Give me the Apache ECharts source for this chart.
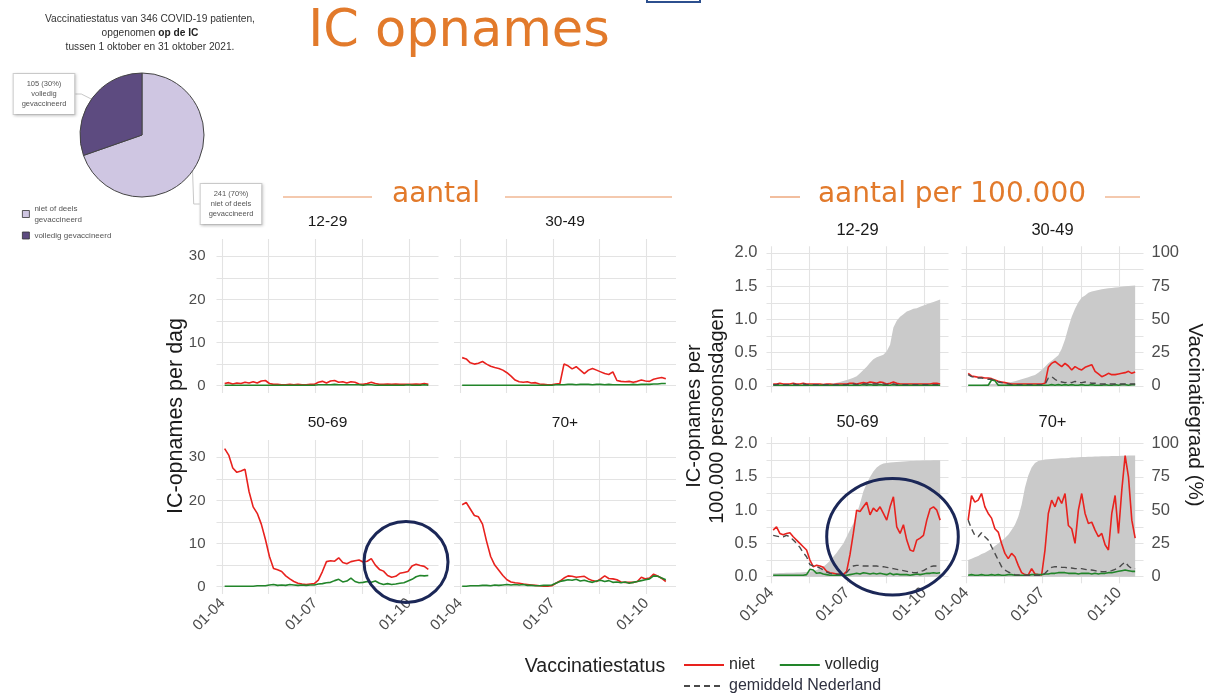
<!DOCTYPE html>
<html><head><meta charset="utf-8">
<script src="https://cdn.jsdelivr.net/npm/echarts@6/dist/echarts.min.js"></script>
<style>html,body{margin:0;padding:0;background:#fff}#c{width:1207px;height:697px}</style>
</head><body><div id="c"></div>
<script>
// ---------- DATA ----------
const dates = ['2021-04-03','2021-04-07','2021-04-11','2021-04-15','2021-04-19','2021-04-23','2021-04-27',
 '2021-05-01','2021-05-05','2021-05-09','2021-05-13','2021-05-17','2021-05-21','2021-05-25','2021-05-29',
 '2021-06-02','2021-06-06','2021-06-10','2021-06-14','2021-06-18','2021-06-22','2021-06-26','2021-06-30',
 '2021-07-04','2021-07-08','2021-07-12','2021-07-16','2021-07-20','2021-07-24','2021-07-28',
 '2021-08-01','2021-08-05','2021-08-09','2021-08-13','2021-08-17','2021-08-21','2021-08-25','2021-08-29',
 '2021-09-02','2021-09-06','2021-09-10','2021-09-14','2021-09-18','2021-09-22','2021-09-26','2021-09-30',
 '2021-10-04','2021-10-08','2021-10-12','2021-10-16','2021-10-20'];
const xGridDates = ['2021-04-01','2021-05-16','2021-07-01','2021-08-16','2021-10-01'];
const xLabelDates = ['2021-04-01','2021-07-01','2021-10-01'];
const xRange = ['2021-03-26','2021-10-30'];
const ageGroups = ['12-29','30-49','50-69','70+'];

// aantal (IC-opnames per dag)
const aantalNiet1229 = [0.5,0.7,0.4,0.6,0.5,0.8,0.6,0.9,0.6,1.1, 1.2,0.5,0.3,0.3,0.2,0.2,0.3,0.2,0.3,0.2, 0.2,0.3,0.3,0.8,1.0,0.6,1.1,1.2,0.8,0.9, 0.6,0.9,0.8,0.4,0.3,0.5,0.8,0.5,0.3,0.3, 0.4,0.3,0.4,0.3,0.3,0.3,0.3,0.4,0.3,0.5, 0.3];
const aantalVol1229 = [0.1,0.1,0.1,0.1,0.1,0.1,0.1,0.1,0.1,0.1, 0.1,0.1,0.1,0.1,0.1,0.1,0.1,0.1,0.1,0.1, 0.1,0.1,0.1,0.2,0.2,0.2,0.2,0.3,0.2,0.2, 0.2,0.2,0.2,0.2,0.1,0.2,0.2,0.1,0.1,0.1, 0.1,0.1,0.1,0.1,0.1,0.2,0.1,0.1,0.1,0.2, 0.1];
const aantalNiet3049 = [6.5,6.2,5.3,5.0,5.2,5.6,5.0,4.5,4.2,4.0, 3.6,3.0,2.2,1.3,0.9,0.8,0.9,0.6,0.7,0.4, 0.3,0.2,0.2,0.4,0.5,5.0,4.6,3.9,4.4,3.6, 2.8,3.6,4.0,3.6,3.2,2.8,2.6,3.2,1.2,1.0, 0.9,1.0,0.8,1.0,1.3,1.1,1.0,1.5,1.7,1.9, 1.6];
const aantalVol3049 = [0.1,0.1,0.1,0.1,0.1,0.1,0.1,0.1,0.1,0.1, 0.1,0.1,0.1,0.1,0.1,0.1,0.1,0.1,0.1,0.1, 0.1,0.1,0.1,0.2,0.2,0.2,0.3,0.3,0.2,0.3, 0.3,0.3,0.2,0.3,0.3,0.2,0.3,0.2,0.2,0.2, 0.2,0.2,0.3,0.2,0.3,0.3,0.3,0.4,0.4,0.5, 0.5];
const aantalNiet5069 = [32,30.5,27.5,26.5,26.8,27.2,22,18.5,17,14.5, 11,7,4.2,3.9,3.5,2.5,1.8,1.2,0.8,0.6, 0.5,0.6,0.7,1.5,3.5,5.8,6.0,5.9,6.7,5.6, 5.3,5.8,6.0,6.2,5.7,5.9,6.5,5.0,4.0,3.6, 2.6,2.2,2.4,3.1,3.3,3.5,4.8,5.2,4.9,4.7, 4.0];
const aantalVol5069 = [0.1,0.1,0.1,0.1,0.1,0.1,0.1,0.1,0.2,0.2, 0.2,0.4,0.5,0.3,0.4,0.3,0.5,0.4,0.3,0.4, 0.3,0.4,0.4,0.6,0.7,0.9,1.0,1.4,1.7,1.1, 1.3,2.0,1.2,0.9,1.0,1.2,1.0,1.3,0.8,0.5, 0.7,0.5,0.6,0.8,0.9,1.3,1.7,2.3,2.6,2.5, 2.6];
const aantalNiet70 = [19.0,19.5,18.0,16.5,16.2,14.5,10.5,7.0,5.0,3.8, 2.6,1.6,1.1,0.9,0.8,0.6,0.5,0.4,0.3,0.2, 0.1,0.1,0.2,0.8,1.3,2.0,2.5,2.4,2.2,2.3, 2.4,1.8,1.4,1.2,1.8,2.5,1.9,1.8,1.6,1.1, 1.0,1.0,1.0,1.2,2.2,1.8,2.0,2.9,2.5,1.9, 1.2];
const aantalVol70 = [0.1,0.1,0.2,0.2,0.2,0.3,0.3,0.2,0.4,0.3, 0.4,0.5,0.4,0.5,0.4,0.5,0.3,0.3,0.2,0.2, 0.3,0.3,0.4,0.8,1.2,1.4,1.6,1.5,1.7,1.3, 1.5,1.2,1.0,1.3,1.5,1.2,1.4,1.0,1.1,0.9, 1.1,0.8,1.0,1.2,1.4,1.6,1.8,2.5,2.4,2.0, 1.6];

// aantal per 100.000 persoonsdagen
const rateNiet1229 = [0.03,0.03,0.04,0.03,0.03,0.03,0.04,0.03,0.03,0.04, 0.03,0.03,0.03,0.03,0.03,0.02,0.03,0.03,0.02,0.03, 0.03,0.03,0.03,0.04,0.04,0.03,0.04,0.05,0.04,0.06, 0.05,0.04,0.06,0.05,0.03,0.04,0.06,0.04,0.03,0.03, 0.03,0.03,0.03,0.03,0.03,0.03,0.03,0.03,0.04,0.04, 0.03];
const rateVol1229 = [0.01,0.01,0.01,0.01,0.01,0.01,0.01,0.01,0.01,0.01, 0.01,0.01,0.01,0.01,0.01,0.01,0.01,0.01,0.01,0.01, 0.01,0.01,0.01,0.01,0.01,0.01,0.01,0.02,0.01,0.02, 0.01,0.01,0.02,0.01,0.01,0.01,0.02,0.01,0.01,0.01, 0.01,0.01,0.01,0.01,0.01,0.01,0.01,0.01,0.01,0.01, 0.01];
const rateGem1229 = [0.02,0.02,0.03,0.02,0.02,0.02,0.03,0.02,0.02,0.03, 0.02,0.02,0.02,0.02,0.02,0.02,0.02,0.02,0.02,0.02, 0.02,0.02,0.02,0.03,0.03,0.02,0.03,0.03,0.03,0.03, 0.03,0.03,0.03,0.03,0.02,0.03,0.03,0.02,0.02,0.02, 0.02,0.02,0.02,0.02,0.02,0.02,0.02,0.02,0.02,0.02, 0.02];
const grade1229 = [0,0,0,0,0,0,0,0.2,0.3,0.4, 0.5,0.7,0.9,1.0,1.1,1.2,1.4,1.6,2.0,2.5, 3.0,3.7,4.5,5.3,6.2,7.2,9.5,12,14.5,17.5, 20,21.5,22.5,23.5,26,31,44,49,52,54, 56,57,58,58.5,59.5,60.5,61.5,62.3,63.2,64, 65];

const rateNiet3049 = [0.19,0.15,0.14,0.13,0.13,0.12,0.12,0.11,0.09,0.07, 0.06,0.05,0.04,0.03,0.03,0.03,0.03,0.03,0.03,0.03, 0.03,0.03,0.03,0.04,0.28,0.34,0.37,0.33,0.29,0.34, 0.30,0.24,0.29,0.26,0.24,0.28,0.30,0.32,0.22,0.18, 0.14,0.16,0.19,0.17,0.17,0.18,0.19,0.20,0.22,0.19, 0.21];
const rateVol3049 = [0.01,0.01,0.01,0.01,0.01,0.01,0.01,0.09,0.08,0.01, 0.01,0.01,0.01,0.01,0.01,0.01,0.01,0.01,0.01,0.01, 0.01,0.01,0.01,0.01,0.01,0.02,0.01,0.02,0.01,0.02, 0.01,0.02,0.01,0.01,0.02,0.01,0.01,0.02,0.01,0.01, 0.01,0.02,0.01,0.01,0.02,0.01,0.02,0.02,0.01,0.02, 0.02];
const rateGem3049 = [0.17,0.14,0.13,0.12,0.12,0.11,0.10,0.10,0.08,0.06, 0.05,0.04,0.03,0.02,0.02,0.02,0.02,0.02,0.02,0.02, 0.02,0.02,0.02,0.02,0.12,0.14,0.10,0.07,0.06,0.05, 0.06,0.05,0.07,0.05,0.05,0.06,0.05,0.04,0.04,0.03, 0.03,0.03,0.03,0.03,0.03,0.03,0.03,0.03,0.03,0.03, 0.03];
const grade3049 = [0.3,0.4,0.5,0.6,0.8,1.0,1.2,1.4,1.6,1.8, 2.0,2.2,2.5,3.0,3.5,4.2,5.0,5.7,6.5,7.5, 8.2,10,12,14.5,17,19,21,23,28,35, 44,52,58,63,66.5,68,70,71,71.6,72.2, 72.7,73,73.4,73.7,74,74.3,74.6,74.9,75.2,75.4, 75.5];

const rateNiet5069 = [0.70,0.75,0.65,0.63,0.65,0.66,0.60,0.55,0.50,0.45, 0.40,0.25,0.15,0.17,0.16,0.14,0.08,0.06,0.05,0.04, 0.03,0.03,0.08,0.33,0.65,1.00,0.98,1.05,1.12,0.93, 1.03,0.98,1.05,0.95,0.85,1.05,1.20,0.75,0.65,0.78, 0.55,0.40,0.38,0.55,0.58,0.62,0.85,1.02,1.05,1.00, 0.85];
const rateVol5069 = [0.02,0.02,0.02,0.02,0.02,0.02,0.02,0.02,0.02,0.02, 0.03,0.11,0.10,0.05,0.06,0.04,0.03,0.02,0.02,0.02, 0.02,0.02,0.02,0.03,0.04,0.05,0.04,0.06,0.05,0.04, 0.05,0.04,0.05,0.04,0.03,0.05,0.03,0.04,0.03,0.03, 0.03,0.02,0.03,0.04,0.03,0.04,0.05,0.05,0.06,0.05, 0.06];
const rateGem5069 = [0.62,0.61,0.60,0.60,0.62,0.60,0.55,0.50,0.44,0.36, 0.30,0.18,0.16,0.15,0.13,0.10,0.07,0.05,0.04,0.035, 0.035,0.04,0.06,0.12,0.16,0.17,0.17,0.16,0.16,0.16, 0.16,0.16,0.15,0.15,0.14,0.13,0.12,0.11,0.10,0.09, 0.08,0.07,0.06,0.06,0.08,0.09,0.12,0.15,0.16,0.16, 0.16];
const grade5069 = [2.5,2.6,2.7,2.8,2.9,3.0,3.0,3.1,3.2,3.3, 3.5,3.8,4.2,5.0,6.2,7.5,9.5,12,15,18, 21.5,25,30,35,40,47,55,64,70,75, 79,82,84,85,85.5,85.8,86,86.2,86.4,86.6, 86.8,87,87,87.1,87.2,87.3,87.4,87.4,87.5,87.5, 87.5];

const rateNiet70 = [0.85,1.22,1.12,1.15,1.25,1.05,0.95,0.88,0.72,0.67, 0.50,0.35,0.27,0.35,0.30,0.17,0.06,0.03,0.025,0.12, 0.04,0.03,0.025,0.40,0.95,1.15,1.05,1.20,1.10,1.25, 0.77,0.72,0.50,1.00,1.25,0.95,0.80,0.82,0.70,0.60, 0.65,0.48,0.40,0.95,1.22,0.65,1.30,1.82,1.50,0.85, 0.58];
const rateVol70 = [0.02,0.03,0.02,0.02,0.03,0.02,0.02,0.03,0.02,0.03, 0.02,0.02,0.03,0.03,0.02,0.02,0.02,0.02,0.02,0.03, 0.03,0.03,0.03,0.04,0.04,0.05,0.05,0.06,0.06,0.06, 0.05,0.05,0.05,0.04,0.05,0.05,0.05,0.04,0.05,0.04, 0.05,0.05,0.06,0.06,0.07,0.08,0.09,0.10,0.09,0.08, 0.08];
const rateGem70 = [0.85,0.72,0.62,0.60,0.66,0.60,0.55,0.45,0.35,0.25, 0.15,0.10,0.07,0.05,0.03,0.025,0.02,0.02,0.02,0.02, 0.02,0.02,0.02,0.05,0.10,0.14,0.15,0.15,0.14,0.14, 0.13,0.13,0.12,0.12,0.12,0.11,0.10,0.10,0.09,0.08, 0.075,0.075,0.08,0.09,0.11,0.13,0.18,0.22,0.16,0.12, 0.12];
const grade70 = [12.5,13.5,14.5,15.5,17,18,19.5,21,23,25, 27,29,31.5,35,39,45,54,67,76,82, 85.5,87,87.5,88,88.3,88.5,88.7,88.8,89,89.1, 89.3,89.5,89.6,89.8,89.9,90,90.1,90.2,90.3,90.4, 90.5,90.6,90.6,90.7,90.8,90.8,90.9,90.9,91,91, 91];

// pie
const pieNames = ['niet of deels gevaccineerd','volledig gevaccineerd'];
const pieValues = [241, 105];
const pieLabelText = ['niet of deels\ngevaccineerd','volledig\ngevaccineerd'];
const pieLegendText = {'niet of deels gevaccineerd':'niet of deels\ngevaccineerd','volledig gevaccineerd':'volledig gevaccineerd'};

const leftTicks = [0,5,10,15,20,25,30], leftLabels = [0,10,20,30];
const rateTicks = [0,0.25,0.5,0.75,1,1.25,1.5,1.75,2], rateLabels = [0,0.5,1,1.5,2];
const gradeLabels = [0,25,50,75,100];

// ---------- CHART ----------
const RED = '#e8221e', GREEN = '#22852a', DASH = '#4a4a4a', GREY = '#cacaca';
const SANS = 'Liberation Sans';
const gridColor = '#e3e3e3';
const pad = n => (n < 10 ? '0' : '') + n;
const ts = s => Date.parse(s);
const fmtDate = v => { const d = new Date(v); return pad(d.getUTCDate()) + '-' + pad(d.getUTCMonth() + 1); };

const grids = [];
const LG = {tops: [239, 440], lefts: [216.5, 454], w: 222, h: 154};
const RG = {tops: [246.3, 437], lefts: [766.5, 961.5], w: 182, h: 146.3};
for (let r = 0; r < 2; r++) for (let c = 0; c < 2; c++)
  grids.push({left: LG.lefts[c], top: LG.tops[r], width: LG.w, height: LG.h});
for (let r = 0; r < 2; r++) for (let c = 0; c < 2; c++)
  grids.push({left: RG.lefts[c], top: RG.tops[r], width: RG.w, height: RG.h});

const xAxes = grids.map((g, i) => {
  const bottomRow = (i % 4) >= 2;
  return {
    type: 'value', gridIndex: i, min: ts(xRange[0]), max: ts(xRange[1]),
    axisLine: {show: false}, axisTick: {show: false, customValues: xGridDates.map(ts)},
    splitLine: {show: true, lineStyle: {color: gridColor, width: 1.1}},
    axisLabel: {show: bottomRow, customValues: xLabelDates.map(ts), rotate: 45, margin: 7,
      formatter: fmtDate, fontFamily: SANS, fontSize: i < 4 ? 15 : 16, color: '#4d4d4d'}
  };
});
const yAxes = [];
for (let i = 0; i < 4; i++) yAxes.push({
  type: 'value', gridIndex: i, min: -1.7, max: 34,
  axisLine: {show: false}, axisTick: {show: false, customValues: leftTicks},
  splitLine: {show: true, lineStyle: {color: gridColor, width: 1.1}},
  axisLabel: {show: i % 2 === 0, customValues: leftLabels, margin: 11, fontFamily: SANS, fontSize: 15, color: '#4d4d4d'}
});
for (let i = 4; i < 8; i++) yAxes.push({
  type: 'value', gridIndex: i, min: -0.1, max: 2.1,
  axisLine: {show: false}, axisTick: {show: false, customValues: rateTicks},
  splitLine: {show: true, lineStyle: {color: gridColor, width: 1.1}},
  axisLabel: {show: i % 2 === 0, customValues: rateLabels, margin: 9, formatter: v => Number(v).toFixed(1),
    fontFamily: SANS, fontSize: 16.5, color: '#4d4d4d'}
});
for (let i = 4; i < 8; i++) yAxes.push({
  type: 'value', gridIndex: i, min: -5, max: 105, position: 'right',
  axisLine: {show: false}, axisTick: {show: false}, splitLine: {show: false},
  axisLabel: {show: i % 2 === 1, customValues: gradeLabels, margin: 8, fontFamily: SANS, fontSize: 16.5, color: '#4d4d4d'}
});

const pairs = vals => dates.map((d, k) => [ts(d), vals[k]]);
function line(name, xi, yi, vals, color, dashed, z) {
  return {type: 'line', name, xAxisIndex: xi, yAxisIndex: yi, data: pairs(vals), symbol: 'none',
    lineStyle: {color, width: dashed ? 1.4 : 1.6, type: dashed ? [6, 4] : 'solid'}, itemStyle: {color},
    z, silent: true, animation: false};
}
function area(xi, yi, vals) {
  return {type: 'line', name: 'vaccinatiegraad', xAxisIndex: xi, yAxisIndex: yi, data: pairs(vals), symbol: 'none',
    lineStyle: {width: 0}, areaStyle: {color: GREY, opacity: 1}, z: 1, silent: true, animation: false};
}
const series = [];
const aantalNiet = [aantalNiet1229, aantalNiet3049, aantalNiet5069, aantalNiet70];
const aantalVol = [aantalVol1229, aantalVol3049, aantalVol5069, aantalVol70];
for (let i = 0; i < 4; i++) {
  series.push(line('niet', i, i, aantalNiet[i], RED, false, 3));
  series.push(line('volledig', i, i, aantalVol[i], GREEN, false, 4));
}
const rateNiet = [rateNiet1229, rateNiet3049, rateNiet5069, rateNiet70];
const rateVol = [rateVol1229, rateVol3049, rateVol5069, rateVol70];
const rateGem = [rateGem1229, rateGem3049, rateGem5069, rateGem70];
const grades = [grade1229, grade3049, grade5069, grade70];
for (let i = 0; i < 4; i++) {
  series.push(area(4 + i, 8 + i, grades[i]));
  series.push(line('niet', 4 + i, 4 + i, rateNiet[i], RED, false, 3));
  series.push(line('volledig', 4 + i, 4 + i, rateVol[i], GREEN, false, 4));
  series.push(line('gemiddeld Nederland', 4 + i, 4 + i, rateGem[i], DASH, true, 5));
}
series.push({
  type: 'pie', name: 'vaccinatiestatus', center: [142, 135], radius: 62, startAngle: 90, clockwise: true,
  animation: false, silent: true,
  data: pieNames.map((n, k) => ({name: n, value: pieValues[k], itemStyle: {color: k === 0 ? '#cfc6e2' : '#5d4b80'}})),
  itemStyle: {borderColor: '#444', borderWidth: 1},
  label: {show: true, position: 'outside', fontFamily: SANS, fontSize: 7.5, lineHeight: 10, color: '#555', align: 'center',
    backgroundColor: '#fff', borderColor: '#cfcfcf', borderWidth: 1, padding: [5, 8],
    shadowBlur: 3, shadowColor: 'rgba(0,0,0,0.18)', shadowOffsetX: 1, shadowOffsetY: 1,
    formatter: p => p.value + ' (' + Math.round(p.percent) + '%)\n' + pieLabelText[p.dataIndex]},
  labelLine: {show: true, length: 6, length2: 6, lineStyle: {color: '#c8c8c8', width: 1}},
  labelLayout: p => p.dataIndex === 1 ? {x: 44, y: 94, align: 'center', verticalAlign: 'middle'}
                                      : {x: 231, y: 204, align: 'center', verticalAlign: 'middle'}
});

const txt = (text, x, y, size, opts = {}) => ({type: 'text', x, y, silent: true, z: 50, rotation: opts.rot || 0,
  style: Object.assign({text, fontFamily: opts.font || SANS, fontSize: size, fill: opts.fill || '#1a1a1a',
    align: 'center', verticalAlign: 'middle', fontWeight: opts.weight || 'normal'}, opts.style || {})});
const hline = (x1, x2, y) => ({type: 'line', silent: true, shape: {x1, y1: y, x2, y2: y}, style: {stroke: '#e9935e', lineWidth: 1.2}});
const ORANGE = '#e27a2b';

const graphics = [
  txt('IC opnames', 459, 33, 51, {font: 'DejaVu Sans', fill: ORANGE}),
  {type: 'rect', silent: true, shape: {x: 647, y: -6, width: 53, height: 8}, style: {fill: 'none', stroke: '#2c4f8e', lineWidth: 2}},
  txt('Vaccinatiestatus van 346 COVID-19 patienten,', 150, 19, 10.2, {fill: '#333'}),
  {type: 'text', x: 150, y: 33, silent: true, style: {text: '{a|opgenomen }{b|op de IC}', align: 'center', verticalAlign: 'middle',
    rich: {a: {fontFamily: SANS, fontSize: 10.2, fill: '#333'}, b: {fontFamily: SANS, fontSize: 10.2, fill: '#222', fontWeight: 'bold'}}}},
  txt('tussen 1 oktober en 31 oktober 2021.', 150, 47, 10.2, {fill: '#333'}),
  hline(283, 372, 197), hline(505, 672, 197), hline(770, 800, 197), hline(1105, 1140, 197),
  txt('aantal', 436, 195, 28, {font: 'DejaVu Sans', fill: ORANGE}),
  txt('aantal per 100.000', 952, 195, 28, {font: 'DejaVu Sans', fill: ORANGE}),
  txt(ageGroups[0], 327.5, 222, 15.5), txt(ageGroups[1], 565, 222, 15.5),
  txt(ageGroups[2], 327.5, 423, 15.5), txt(ageGroups[3], 565, 423, 15.5),
  txt(ageGroups[0], 857.5, 230, 16.5), txt(ageGroups[1], 1052.5, 230, 16.5),
  txt(ageGroups[2], 857.5, 422, 16.5), txt(ageGroups[3], 1052.5, 422, 16.5),
  txt('IC-opnames per dag', 176, 416, 21.5, {rot: Math.PI / 2}),
  txt('IC-opnames per', 694, 416, 20, {rot: Math.PI / 2}),
  txt('100.000 persoonsdagen', 717, 416, 20, {rot: Math.PI / 2}),
  txt('Vaccinatiegraad (%)', 1195, 415, 20.5, {rot: -Math.PI / 2}),
  txt('Vaccinatiestatus', 595, 667, 19.5, {fill: '#222'}),
  {type: 'ellipse', silent: true, z: 100, shape: {cx: 406, cy: 562, rx: 42, ry: 40.5}, style: {fill: 'none', stroke: '#1b2757', lineWidth: 3}},
  {type: 'ellipse', silent: true, z: 100, shape: {cx: 892.5, cy: 536.7, rx: 65.8, ry: 58.3}, style: {fill: 'none', stroke: '#1b2757', lineWidth: 3}}
];

const chart = echarts.init(document.getElementById('c'), null, {renderer: 'canvas'});
chart.setOption({
  backgroundColor: '#fff',
  animation: false,
  grid: grids,
  xAxis: xAxes,
  yAxis: yAxes,
  legend: [
    {data: pieNames, left: 17, top: 198, orient: 'vertical', icon: 'rect', itemWidth: 7, itemHeight: 7, itemGap: 5,
      selectedMode: false, itemStyle: {borderColor: '#333', borderWidth: 0.8},
      textStyle: {fontFamily: SANS, fontSize: 8, lineHeight: 11, color: '#555'}, formatter: n => pieLegendText[n]},
    {data: ['niet', 'volledig'], left: 678, top: 652, itemWidth: 40, itemHeight: 14, itemGap: 24, selectedMode: false,
      itemStyle: {opacity: 0}, textStyle: {fontFamily: SANS, fontSize: 16, color: '#2a2a2a'}},
    {data: ['gemiddeld Nederland'], left: 678, top: 673, itemWidth: 40, itemHeight: 14, selectedMode: false,
      itemStyle: {opacity: 0}, textStyle: {fontFamily: SANS, fontSize: 16, color: '#2f3140'}}
  ],
  series,
  graphic: graphics
});
</script></body></html>
